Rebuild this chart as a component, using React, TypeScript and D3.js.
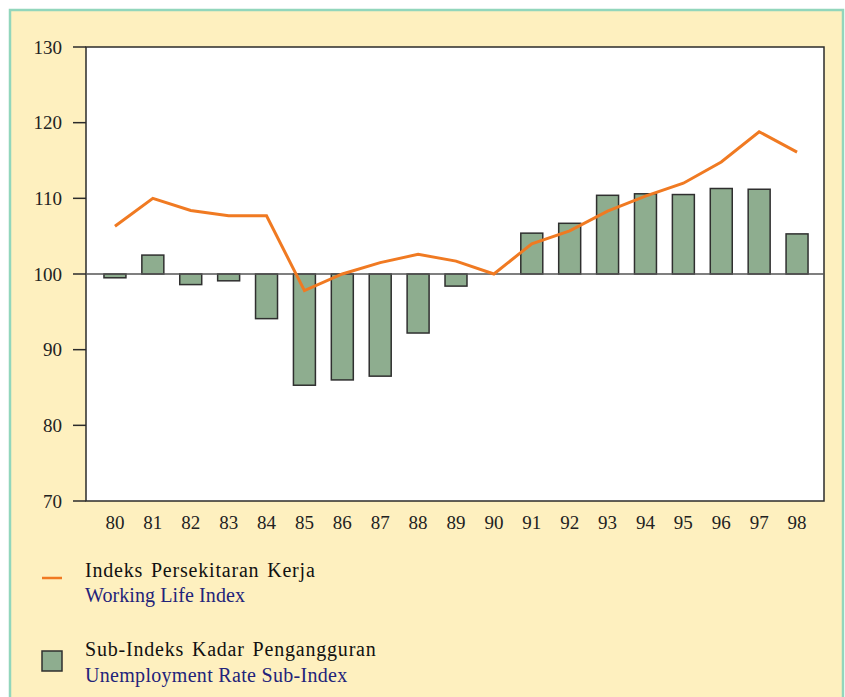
import * as d3 from "d3";

const years = ["80", "81", "82", "83", "84", "85", "86", "87", "88", "89", "90", "91", "92", "93", "94", "95", "96", "97", "98"];

// Working Life Index (line)
const workingLife = [106.3, 110.0, 108.4, 107.7, 107.7, 97.8, 100.0, 101.5, 102.6, 101.7, 100.0, 104.0, 105.7, 108.3, 110.3, 112.0, 114.8, 118.8, 116.1];

// Unemployment Rate Sub-Index (bars)
const unemployment = [99.5, 102.5, 98.6, 99.1, 94.1, 85.3, 86.0, 86.5, 92.2, 98.4, 100.0, 105.4, 106.7, 110.4, 110.6, 110.5, 111.3, 111.2, 105.3];

const yTicks = [70, 80, 90, 100, 110, 120, 130];

const W = 845;
const H = 697;
const plot = { left: 86, right: 824, top: 47, bottom: 501 };
const serif = "'Liberation Serif', 'Times New Roman', serif";

const App = () => {
  const x = d3
    .scaleBand()
    .domain(years)
    .range([plot.left + 10, plot.right - 8])
    .paddingInner(0.42)
    .paddingOuter(0.21);

  const y = d3.scaleLinear().domain([70, 130]).range([plot.bottom, plot.top]);

  const cx = (yr: string) => (x(yr) ?? 0) + x.bandwidth() / 2;

  const line = d3
    .line<number>()
    .x((d, i) => cx(years[i]))
    .y((d) => y(d));

  return (
    <svg
      width={W}
      height={H}
      style={{ position: "absolute", left: 0, top: 0, display: "block" }}
      fontFamily={serif}
    >
      {/* background panel */}
      <rect x={0} y={0} width={W} height={H} fill="#ffffff" />
      <rect x={10} y={10} width={833} height={H} fill="#FEF0BF" stroke="#92D6BC" strokeWidth={2.5} />

      {/* plot area */}
      <rect
        x={plot.left}
        y={plot.top}
        width={plot.right - plot.left}
        height={plot.bottom - plot.top}
        fill="#ffffff"
        stroke="#2b2b2b"
        strokeWidth={1.5}
      />

      {/* y ticks */}
      {yTicks.map((t) => (
        <g key={t}>
          <line x1={plot.left - 13} x2={plot.left} y1={y(t)} y2={y(t)} stroke="#2b2b2b" strokeWidth={1.5} />
          <text x={plot.left - 24} y={y(t)} dy="0.35em" textAnchor="end" fontSize={19} fill="#222">
            {t}
          </text>
        </g>
      ))}

      {/* bars */}
      {unemployment.map((v, i) => {
        if (v === 100) return null;
        const top = y(Math.max(v, 100));
        const bot = y(Math.min(v, 100));
        return (
          <rect
            key={years[i]}
            x={x(years[i])}
            y={top}
            width={x.bandwidth()}
            height={bot - top}
            fill="#8EAD8F"
            stroke="#2f2f2f"
            strokeWidth={1.5}
          />
        );
      })}

      {/* 100 baseline */}
      <line x1={plot.left} x2={plot.right} y1={y(100)} y2={y(100)} stroke="#555" strokeWidth={1.5} />

      {/* line */}
      <path d={line(workingLife) ?? ""} fill="none" stroke="#F07A22" strokeWidth={3} strokeLinejoin="miter" />

      {/* x labels */}
      {years.map((yr) => (
        <text key={yr} x={cx(yr)} y={529} textAnchor="middle" fontSize={19} fill="#222">
          {yr}
        </text>
      ))}

      {/* Legend */}
      <line x1={42} x2={62} y1={578} y2={578} stroke="#F07A22" strokeWidth={2.5} />
      <text x={85} y={577} fontSize={20} fill="#111" letterSpacing={0.8} wordSpacing={2}>
        Indeks Persekitaran Kerja
      </text>
      <text x={85} y={602} fontSize={20} fill="#23237A" letterSpacing={0.1}>
        Working Life Index
      </text>

      <rect x={42} y={651} width={20} height={20} fill="#8EAD8F" stroke="#2f2f2f" strokeWidth={1.5} />
      <text x={85} y={656} fontSize={20} fill="#111" letterSpacing={0.8} wordSpacing={2}>
        Sub-Indeks Kadar Pengangguran
      </text>
      <text x={85} y={682} fontSize={20} fill="#23237A" letterSpacing={0.3}>
        Unemployment Rate Sub-Index
      </text>
    </svg>
  );
};

export default App;
